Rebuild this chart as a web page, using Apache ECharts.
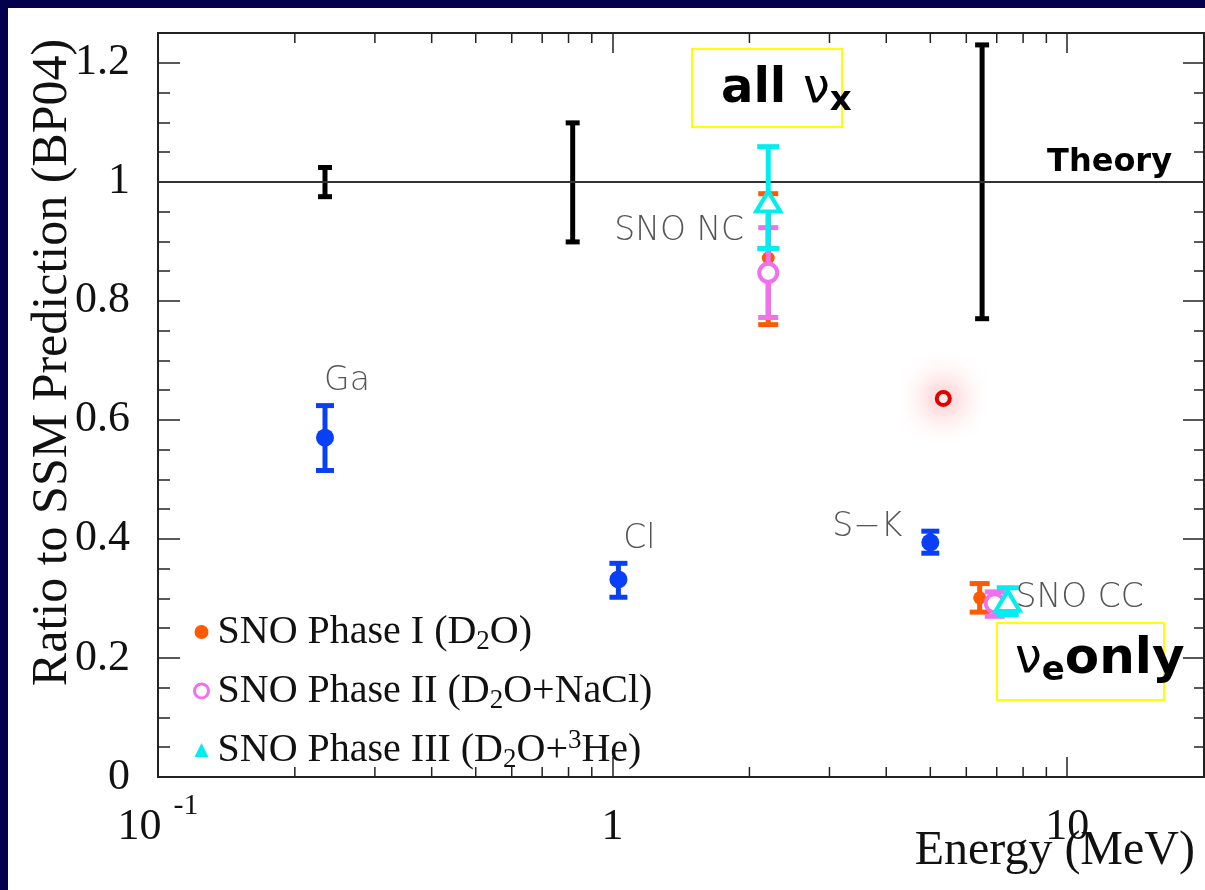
<!DOCTYPE html>
<html><head><meta charset="utf-8">
<script src="https://cdn.jsdelivr.net/npm/echarts@6/dist/echarts.min.js"></script>
<style>
html,body{margin:0;padding:0;background:#03014e;width:1205px;height:890px;overflow:hidden}
#chart{position:absolute;left:8px;top:8px;width:1197px;height:882px;}
</style></head><body><div id="chart"></div>
<script>
// ---------- data ----------
const xMin = 0.1, xMax = 20;
const yMin = 0, yMax = 1.25;
const xMinorTicks = [0.2, 0.3, 0.4, 0.5, 0.6, 0.7, 0.8, 0.9, 2, 3, 4, 5, 6, 7, 8, 9];
const xTickValues = [0.1, 1, 10];
const xTickLabels = ['{b|10}{sup|-1}', '{b|1}', '{b|10}'];

const theoryValue = 1;
const theoryE    = [0.233, 0.817, 6.5];
const theoryLow  = [0.975, 0.899, 0.770];
const theoryHigh = [1.024, 1.099, 1.230];

const expNames = ['Ga', 'Cl', 'S\u2212K'];
const expE     = [0.233, 1.03, 5.0];
const expVal   = [0.570, 0.332, 0.394];
const expLow   = [0.515, 0.302, 0.376];
const expHigh  = [0.624, 0.359, 0.413];

const phaseNames = ['SNO Phase I (D2O)', 'SNO Phase II (D2O+NaCl)', 'SNO Phase III (D2O+3He)'];
const sno1E = [2.2, 6.42];  const sno1Val = [0.872, 0.301]; const sno1Low = [0.760, 0.277]; const sno1High = [0.980, 0.325];
const sno2E = [2.2, 6.93];  const sno2Val = [0.847, 0.292]; const sno2Low = [0.772, 0.270]; const sno2High = [0.923, 0.311];
const sno3E = [2.2, 7.40];  const sno3Val = [0.967, 0.296]; const sno3Low = [0.888, 0.273]; const sno3High = [1.059, 0.318];
const snoLabels = ['SNO NC', 'SNO CC'];

const highlightE = [5.34];
const highlightVal = [0.636];

// ---------- styles ----------
const SERIF = "'Liberation Serif','Times New Roman',serif";
const SANS = "'DejaVu Sans',sans-serif";
const FRAME = '#222';
const BLUE = '#0a40f5', ORANGE = '#ff5a00', PINK = '#f070ee', CYAN = '#00eef0';
const grayLabel = {show: true, position: 'inside', color: '#555', fontFamily: SANS, fontWeight: 300, fontSize: 33};
const expLabelOffsets = [[22, -56], [21, -40], [-63, -15]];

function errorBars(name, E, low, high, color, capHalf, lw, z) {
  return {
    type: 'custom', name: name, z: z, silent: true, clip: false,
    xAxisIndex: 0, yAxisIndex: 0,
    data: E.map((e, i) => [e, low[i], high[i]]),
    encode: {x: 0, y: [1, 2]},
    renderItem: function (params, api) {
      const lo = api.coord([api.value(0), api.value(1)]);
      const hi = api.coord([api.value(0), api.value(2)]);
      const st = {stroke: color, lineWidth: lw};
      return {type: 'group', children: [
        {type: 'line', shape: {x1: lo[0], y1: lo[1], x2: hi[0], y2: hi[1]}, style: st},
        {type: 'line', shape: {x1: lo[0] - capHalf, y1: lo[1], x2: lo[0] + capHalf, y2: lo[1]}, style: st},
        {type: 'line', shape: {x1: hi[0] - capHalf, y1: hi[1], x2: hi[0] + capHalf, y2: hi[1]}, style: st}
      ]};
    }
  };
}

function xAxisDef(pos, showLabels) {
  return {
    type: 'log', logBase: 10, min: xMin, max: xMax, position: pos, gridIndex: 0,
    axisLine: {show: true, onZero: false, lineStyle: {color: FRAME, width: 2}},
    axisTick: {show: true, inside: true, length: 20, lineStyle: {color: FRAME, width: 1.5}},
    splitLine: {show: false},
    axisLabel: showLabels ? {
      show: true, margin: 25, color: '#111', fontFamily: SERIF, fontSize: 44,
      formatter: function (v) {
        for (let i = 0; i < xTickValues.length; i++) {
          if (Math.abs(Math.log10(v) - Math.log10(xTickValues[i])) < 1e-6) return xTickLabels[i];
        }
        return '';
      },
      rich: {
        b: {fontFamily: SERIF, fontSize: 44, color: '#111', lineHeight: 50, verticalAlign: 'middle'},
        sup: {fontFamily: SERIF, fontSize: 30, color: '#111', lineHeight: 30, padding: [0, 0, 42, 12]}
      }
    } : {show: false},
    name: showLabels ? 'Energy (MeV)' : '',
    nameLocation: 'end', nameGap: -9, nameMoveOverlap: false,
    nameTextStyle: {fontFamily: SERIF, fontSize: 48, color: '#111', align: 'right', verticalAlign: 'top', padding: [50, 0, 0, 0]}
  };
}

function yAxisDef(pos, interval, tickLen, showLabels) {
  return {
    type: 'value', min: yMin, max: yMax, interval: interval, position: pos, gridIndex: 0,
    axisLine: {show: true, onZero: false, lineStyle: {color: FRAME, width: 2}},
    axisTick: {show: true, inside: true, length: tickLen, lineStyle: {color: FRAME, width: 1.5}},
    splitLine: {show: false},
    axisLabel: showLabels ? {
      show: true, margin: 28, color: '#111', fontFamily: SERIF, fontSize: 44, showMaxLabel: false,
      formatter: function (v) { return Math.abs(v - yMax) < 1e-9 ? '' : String(Math.round(v * 10) / 10); }
    } : {show: false},
    name: showLabels ? 'Ratio to SSM Prediction (BP04)' : '',
    nameLocation: 'middle', nameRotate: 90, nameGap: 80, nameMoveOverlap: false,
    nameTextStyle: {fontFamily: SERIF, fontSize: 50, color: '#111', padding: [0, 0, 0, 85]}
  };
}

const legendRich = {
  sub: {fontFamily: SERIF, fontSize: 27, color: '#111', verticalAlign: 'bottom', lineHeight: 22},
  sup: {fontFamily: SERIF, fontSize: 27, color: '#111', verticalAlign: 'top', lineHeight: 18}
};

const option = {
  backgroundColor: '#ffffff',
  animation: false,
  grid: {left: 150, top: 25, width: 1046, height: 744, containLabel: false, outerBoundsMode: 'none'},
  xAxis: [xAxisDef('bottom', true), xAxisDef('top', false)],
  yAxis: [yAxisDef('left', 0.2, 22, true), yAxisDef('left', 0.05, 12, false),
          yAxisDef('right', 0.2, 21, false), yAxisDef('right', 0.05, 10, false)],
  legend: {
    orient: 'vertical', left: 180, top: 596, itemWidth: 14, itemHeight: 14, itemGap: 13,
    selectedMode: false,
    textStyle: {fontFamily: SERIF, fontSize: 40, color: '#111', lineHeight: 46, padding: [0, 0, 0, 4], rich: legendRich},
    formatter: function (name) {
      return name.replace('D2O', 'D{sub|2}O').replace('+3He', '+{sup|3}He');
    },
    data: [
      {name: phaseNames[0], icon: 'circle', itemStyle: {color: ORANGE, borderWidth: 0}},
      {name: phaseNames[1], icon: 'circle', itemStyle: {color: '#fff', borderColor: PINK, borderWidth: 3}},
      {name: phaseNames[2], icon: 'triangle', itemStyle: {color: CYAN, borderWidth: 0}}
    ]
  },
  graphic: [
    {type: 'rect', z: 50, shape: {x: 684, y: 41, width: 150, height: 78}, style: {fill: 'rgba(0,0,0,0)', stroke: '#ffff00', lineWidth: 2}},
    {type: 'text', z: 51, x: 713, y: 82, style: {
      text: '{b|all }{nu|\u03bd}{sub|x}', verticalAlign: 'middle', align: 'left',
      rich: {
        b: {fontFamily: SANS, fontWeight: 'bold', fontSize: 48, lineHeight: 56, fill: '#000'},
        nu: {fontFamily: SANS, fontSize: 48, lineHeight: 56, fill: '#000'},
        sub: {fontFamily: SANS, fontWeight: 'bold', fontSize: 34, lineHeight: 24, verticalAlign: 'bottom', fill: '#000'}
      }}},
    {type: 'rect', z: 50, shape: {x: 989, y: 615, width: 167, height: 77}, style: {fill: 'rgba(0,0,0,0)', stroke: '#ffff00', lineWidth: 2}},
    {type: 'text', z: 51, x: 1007, y: 652, style: {
      text: '{nu|\u03bd}{sub|e}{b|only}', verticalAlign: 'middle', align: 'left',
      rich: {
        b: {fontFamily: SANS, fontWeight: 'bold', fontSize: 50, lineHeight: 56, fill: '#000'},
        nu: {fontFamily: SANS, fontSize: 48, lineHeight: 56, fill: '#000'},
        sub: {fontFamily: SANS, fontWeight: 'bold', fontSize: 34, lineHeight: 16, verticalAlign: 'bottom', fill: '#000'}
      }}}
  ],
  series: [
    {
      type: 'custom', name: 'xMinorTicks', silent: true, clip: false, z: 1,
      xAxisIndex: 0, yAxisIndex: 0,
      data: xMinorTicks.map(v => [v, yMin]),
      encode: {x: 0, y: 1},
      renderItem: function (params, api) {
        const b = api.coord([api.value(0), yMin]);
        const t = api.coord([api.value(0), yMax]);
        const st = {stroke: FRAME, lineWidth: 1.5};
        return {type: 'group', children: [
          {type: 'line', shape: {x1: b[0], y1: b[1], x2: b[0], y2: b[1] - 10}, style: st},
          {type: 'line', shape: {x1: t[0], y1: t[1], x2: t[0], y2: t[1] + 10}, style: st}
        ]};
      }
    },
    {
      type: 'line', name: 'Theory', data: [], silent: true, z: 2,
      markLine: {
        silent: true, symbol: 'none', animation: false,
        lineStyle: {color: '#333', width: 2, type: 'solid'},
        label: {show: true, position: 'insideEndTop', formatter: 'Theory', distance: [32, 3],
                fontFamily: SANS, fontWeight: 'bold', fontSize: 32, color: '#000'},
        data: [{yAxis: theoryValue}]
      }
    },
    errorBars('Theory uncertainty', theoryE, theoryLow, theoryHigh, '#000', 7, 5, 3),
    errorBars('Experiments err', expE, expLow, expHigh, BLUE, 9, 5, 3),
    {
      type: 'scatter', name: 'Experiments', z: 4, symbol: 'circle', symbolSize: 18,
      itemStyle: {color: BLUE, opacity: 1},
      data: expE.map((e, i) => ({value: [e, expVal[i]], name: expNames[i],
        label: Object.assign({}, grayLabel, {formatter: expNames[i], offset: expLabelOffsets[i]})}))
    },
    errorBars(phaseNames[0] + ' err', sno1E, sno1Low, sno1High, ORANGE, 10, 5, 5),
    {
      type: 'scatter', name: phaseNames[0], z: 6, symbol: 'circle', symbolSize: 13,
      itemStyle: {color: ORANGE, opacity: 1},
      data: sno1E.map((e, i) => [e, sno1Val[i]])
    },
    errorBars(phaseNames[1] + ' err', sno2E, sno2Low, sno2High, PINK, 10, 5, 7),
    {
      type: 'scatter', name: phaseNames[1], z: 8, symbol: 'circle', symbolSize: 18,
      itemStyle: {color: '#fff', borderColor: PINK, borderWidth: 4, opacity: 1},
      data: sno2E.map((e, i) => ({value: [e, sno2Val[i]],
        label: i === 0 ? Object.assign({}, grayLabel, {formatter: snoLabels[0], offset: [-89, -41]}) : {show: false}}))
    },
    errorBars(phaseNames[2] + ' err', sno3E, sno3Low, sno3High, CYAN, 11, 5, 9),
    {
      type: 'scatter', name: phaseNames[2], z: 10, symbol: 'triangle', symbolSize: [24, 20],
      itemStyle: {color: '#fff', borderColor: CYAN, borderWidth: 4, opacity: 1},
      data: sno3E.map((e, i) => ({value: [e, sno3Val[i]],
        label: i === 1 ? Object.assign({}, grayLabel, {formatter: snoLabels[1], offset: [72, -2]}) : {show: false}}))
    },
    {
      type: 'scatter', name: 'Highlight', z: 11, symbol: 'circle', symbolSize: 13,
      itemStyle: {color: '#fff', borderColor: '#e00000', borderWidth: 4, opacity: 1,
                  shadowBlur: 34, shadowColor: 'rgba(255,0,0,1)'},
      data: highlightE.map((e, i) => [e, highlightVal[i]])
    }
  ]
};

const chart = echarts.init(document.getElementById('chart'), null, {renderer: 'canvas'});
chart.setOption(option);
</script></body></html>
